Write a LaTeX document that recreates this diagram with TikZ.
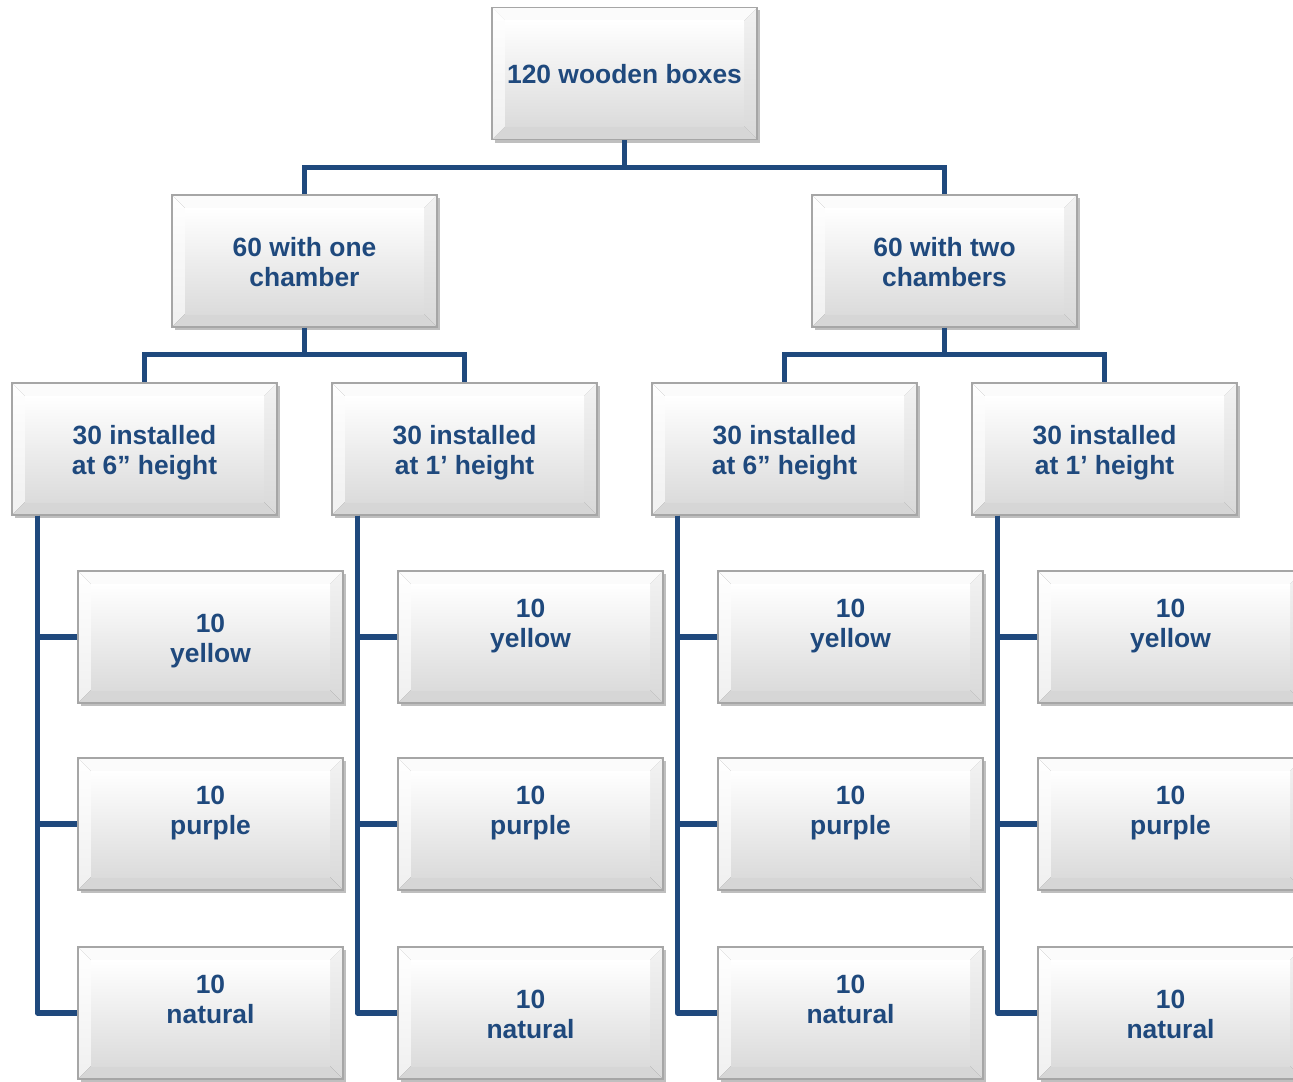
\documentclass[tikz,border=0pt]{standalone}
\usepackage{fontspec}
\setmainfont{Liberation Sans}
\usetikzlibrary{shadows,calc}
\definecolor{navy}{HTML}{1F497D}
\definecolor{bord}{HTML}{A6A6A6}
\begin{document}
\begin{tikzpicture}[x=0.5pt,y=-0.5pt,
 bevelbox/.style={rectangle, minimum width=132.5pt, minimum height=66pt, inner sep=0pt,
  draw=bord, line width=0.6pt, font=\fontsize{13.2pt}{15.4pt}\selectfont\bfseries,
  text=navy, align=center, text height=28.8pt, text depth=3pt,
  drop shadow={shadow xshift=1.5pt, shadow yshift=-1.5pt, fill=black, opacity=0.25},
  path picture={
   \path (path picture bounding box.south west) coordinate (pSW)
         (path picture bounding box.north east) coordinate (pNE);
   \coordinate (pNW) at (pSW |- pNE);
   \coordinate (pSE) at (pNE |- pSW);
   \coordinate (iSW) at ($(pSW)+(6.5pt,6.5pt)$);
   \coordinate (iNE) at ($(pNE)+(-6.5pt,-6.5pt)$);
   \coordinate (iNW) at (iSW |- iNE);
   \coordinate (iSE) at (iNE |- iSW);
   \fill[top color=white, bottom color=gray!12] (pNW) -- (iNW) -- (iSW) -- (pSW) -- cycle;
   \fill[top color=gray!10, bottom color=gray!30] (pNE) -- (pSE) -- (iSE) -- (iNE) -- cycle;
   \fill[gray!3] (pNW) -- (pNE) -- (iNE) -- (iNW) -- cycle;
   \fill[gray!32] (pSW) -- (pSE) -- (iSE) -- (iSW) -- cycle;
   \shade[top color=white, bottom color=gray!28] (iSW) rectangle (iNE);
  }},
 up/.style={text depth=18pt},
 link/.style={draw=navy, line width=2.6pt}
]
\useasboundingbox (0,0) rectangle (1293,1081);
\clip (0,0) rectangle (1293,1081);

% boxes
\node[bevelbox, text height=9.8pt, text depth=0pt] (t) at (624.5,73.5) {120 wooden boxes};
\node[bevelbox] (a) at (304.5,261) {60 with one\\chamber};
\node[bevelbox] (b) at (944.5,261) {60 with two\\chambers};

\node[bevelbox] (a1) at (144.5,449) {30 installed\\at 6” height};
\node[bevelbox] (a2) at (464.5,449) {30 installed\\at 1’ height};
\node[bevelbox] (b1) at (784.5,449) {30 installed\\at 6” height};
\node[bevelbox] (b2) at (1104.5,449) {30 installed\\at 1’ height};

\node[bevelbox] (a1y) at (210.5,637) {10\\yellow};
\node[bevelbox,up] (a1p) at (210.5,824) {10\\purple};
\node[bevelbox,up] (a1n) at (210.5,1013) {10\\natural};

\node[bevelbox,up] (a2y) at (530.5,637) {10\\yellow};
\node[bevelbox,up] (a2p) at (530.5,824) {10\\purple};
\node[bevelbox] (a2n) at (530.5,1013) {10\\natural};

\node[bevelbox,up] (b1y) at (850.5,637) {10\\yellow};
\node[bevelbox,up] (b1p) at (850.5,824) {10\\purple};
\node[bevelbox,up] (b1n) at (850.5,1013) {10\\natural};

\node[bevelbox,up] (b2y) at (1170.5,637) {10\\yellow};
\node[bevelbox,up] (b2p) at (1170.5,824) {10\\purple};
\node[bevelbox] (b2n) at (1170.5,1013) {10\\natural};

% connectors
\draw[link] (t.south) -- ++(0,27) coordinate (tj) -| (a.north);
\draw[link] (tj) -| (b.north);
\draw[link] (a.south) -- ++(0,27) coordinate (aj) -| (a1.north);
\draw[link] (aj) -| (a2.north);
\draw[link] (b.south) -- ++(0,27) coordinate (bj) -| (b1.north);
\draw[link] (bj) -| (b2.north);

\foreach \p in {a1,a2,b1,b2}{
  \draw[link] ([xshift=13pt]\p.south west) |- (\p y.west);
  \draw[link] ([xshift=13pt]\p.south west) |- (\p p.west);
  \draw[link,line join=round] ([xshift=13pt]\p.south west) |- (\p n.west);
}
\end{tikzpicture}
\end{document}
